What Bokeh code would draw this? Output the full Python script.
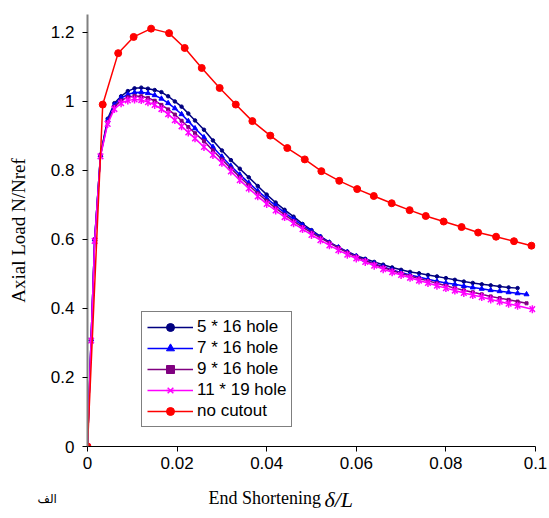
import math
from bokeh.plotting import figure
from bokeh.models import Range1d, FixedTicker, Legend, LegendItem, Label
from bokeh.embed import file_html
from bokeh.resources import INLINE

# ---------------- data ----------------
x_ticks = [0, 0.02, 0.04, 0.06, 0.08, 0.1]
x_tick_labels = ["0", "0.02", "0.04", "0.06", "0.08", "0.1"]
y_ticks = [0, 0.2, 0.4, 0.6, 0.8, 1.0, 1.2]
y_tick_labels = ["0", "0.2", "0.4", "0.6", "0.8", "1", "1.2"]

series_names = ["5 * 16 hole", "7 * 16 hole", "9 * 16 hole", "11 * 19 hole", "no cutout"]

x_5_16 = [0, 0.0008, 0.0016, 0.0029, 0.0045, 0.006, 0.0075, 0.009, 0.0105, 0.012, 0.0135, 0.015,
          0.0165, 0.018, 0.0195, 0.021, 0.0225, 0.024, 0.026, 0.028, 0.030, 0.032, 0.034, 0.036,
          0.038, 0.040, 0.042, 0.044, 0.046, 0.048, 0.050, 0.052, 0.054, 0.056, 0.058, 0.060,
          0.062, 0.064, 0.066, 0.068, 0.070, 0.072, 0.074, 0.076, 0.078, 0.080, 0.082, 0.084,
          0.086, 0.088, 0.090, 0.092, 0.094, 0.096]
y_5_16 = [0, 0.31, 0.60, 0.845, 0.95, 0.995, 1.015, 1.03, 1.038, 1.04, 1.037, 1.033,
          1.027, 1.015, 1.0, 0.985, 0.965, 0.945, 0.918, 0.887, 0.858, 0.83, 0.805, 0.78,
          0.755, 0.73, 0.707, 0.686, 0.666, 0.645, 0.627, 0.609, 0.592, 0.578, 0.565, 0.553,
          0.544, 0.535, 0.527, 0.519, 0.512, 0.506, 0.502, 0.497, 0.493, 0.488, 0.483, 0.478,
          0.474, 0.470, 0.467, 0.464, 0.461, 0.459]

x_7_16 = [0, 0.0008, 0.0016, 0.0029, 0.0045, 0.006, 0.0075, 0.009, 0.0105, 0.012, 0.0135, 0.015,
          0.0165, 0.018, 0.0195, 0.021, 0.0225, 0.024, 0.026, 0.028, 0.030, 0.032, 0.034, 0.036,
          0.038, 0.040, 0.042, 0.044, 0.046, 0.048, 0.050, 0.052, 0.054, 0.056, 0.058, 0.060,
          0.062, 0.064, 0.066, 0.068, 0.070, 0.072, 0.074, 0.076, 0.078, 0.080, 0.082, 0.084,
          0.086, 0.088, 0.090, 0.092, 0.094, 0.096, 0.098]
y_7_16 = [0, 0.31, 0.60, 0.845, 0.945, 0.99, 1.01, 1.02, 1.026, 1.027, 1.024, 1.018,
          1.008, 0.995, 0.98, 0.963, 0.943, 0.922, 0.896, 0.868, 0.840, 0.813, 0.788, 0.764,
          0.741, 0.719, 0.698, 0.678, 0.659, 0.641, 0.624, 0.607, 0.591, 0.577, 0.563, 0.551,
          0.540, 0.530, 0.521, 0.512, 0.504, 0.497, 0.491, 0.485, 0.479, 0.474, 0.470, 0.465,
          0.461, 0.457, 0.453, 0.450, 0.447, 0.444, 0.441]

x_9_16 = [0, 0.0008, 0.0016, 0.0029, 0.0045, 0.006, 0.0075, 0.009, 0.0105, 0.012, 0.0135, 0.015,
          0.0165, 0.018, 0.0195, 0.021, 0.0225, 0.024, 0.026, 0.028, 0.030, 0.032, 0.034, 0.036,
          0.038, 0.040, 0.042, 0.044, 0.046, 0.048, 0.050, 0.052, 0.054, 0.056, 0.058, 0.060,
          0.062, 0.064, 0.066, 0.068, 0.070, 0.072, 0.074, 0.076, 0.078, 0.080, 0.082, 0.084,
          0.086, 0.088, 0.090, 0.092, 0.094, 0.096, 0.098]
y_9_16 = [0, 0.31, 0.60, 0.843, 0.94, 0.985, 1.003, 1.012, 1.016, 1.015, 1.01, 1.002,
          0.99, 0.977, 0.962, 0.944, 0.926, 0.908, 0.885, 0.858, 0.832, 0.806, 0.781, 0.757,
          0.734, 0.712, 0.691, 0.672, 0.653, 0.636, 0.620, 0.605, 0.590, 0.576, 0.562, 0.550,
          0.539, 0.528, 0.519, 0.510, 0.502, 0.494, 0.487, 0.480, 0.473, 0.466, 0.459, 0.453,
          0.447, 0.441, 0.435, 0.430, 0.425, 0.420, 0.415]

x_11_19 = [0, 0.0008, 0.0016, 0.0029, 0.0045, 0.006, 0.0075, 0.009, 0.0105, 0.012, 0.0135, 0.015,
           0.0165, 0.018, 0.0195, 0.021, 0.0225, 0.024, 0.026, 0.028, 0.030, 0.032, 0.034, 0.036,
           0.038, 0.040, 0.042, 0.044, 0.046, 0.048, 0.050, 0.052, 0.054, 0.056, 0.058, 0.060,
           0.062, 0.064, 0.066, 0.068, 0.070, 0.072, 0.074, 0.076, 0.078, 0.080, 0.082, 0.084,
           0.086, 0.088, 0.090, 0.092, 0.094, 0.096, 0.0993]
y_11_19 = [0, 0.307, 0.596, 0.841, 0.935, 0.978, 0.995, 1.003, 1.006, 1.004, 0.998, 0.99,
           0.978, 0.963, 0.946, 0.928, 0.91, 0.893, 0.868, 0.845, 0.822, 0.797, 0.772, 0.748,
           0.725, 0.703, 0.684, 0.665, 0.647, 0.630, 0.613, 0.598, 0.583, 0.569, 0.556, 0.545,
           0.535, 0.524, 0.514, 0.505, 0.497, 0.489, 0.481, 0.474, 0.466, 0.459, 0.452, 0.445,
           0.439, 0.433, 0.426, 0.420, 0.414, 0.408, 0.398]

x_no_cut = [0, 0.0034, 0.00685, 0.0103, 0.0142, 0.0182, 0.0217, 0.0255, 0.0295, 0.0331, 0.0368,
            0.0408, 0.0446, 0.0485, 0.0522, 0.0562, 0.0602, 0.0639, 0.0679, 0.0719, 0.0755,
            0.0795, 0.0835, 0.0872, 0.0912, 0.0952, 0.0991]
y_no_cut = [0, 0.991, 1.140, 1.187, 1.211, 1.198, 1.155, 1.097, 1.039, 0.991, 0.943,
            0.901, 0.865, 0.832, 0.798, 0.770, 0.746, 0.726, 0.705, 0.685, 0.668,
            0.652, 0.636, 0.620, 0.608, 0.595, 0.582]

# ---------------- figure ----------------
p = figure(width=549, height=518, output_backend="svg", toolbar_location=None,
           x_range=Range1d(0, 0.1), y_range=Range1d(0, 1.252))
p.min_border_left = 87
p.min_border_right = 14
p.min_border_top = 13
p.min_border_bottom = 72
p.outline_line_color = None
p.grid.visible = False
p.background_fill_color = "white"
p.border_fill_color = "white"

sans = "Liberation Sans"
serif = "Liberation Serif"

xa = p.xaxis[0]
xa.ticker = FixedTicker(ticks=x_ticks)
xa.major_label_overrides = {t: l for t, l in zip(x_ticks, x_tick_labels)}
xa.axis_line_color = "black"
xa.axis_line_width = 1
xa.major_tick_line_color = "black"
xa.major_tick_out = 5
xa.major_tick_in = 0
xa.minor_tick_line_color = None
xa.major_label_text_font = sans
xa.major_label_text_font_size = "17px"
xa.major_label_text_color = "black"
xa.major_label_standoff = 5

ya = p.yaxis[0]
ya.ticker = FixedTicker(ticks=y_ticks)
ya.major_label_overrides = {t: l for t, l in zip(y_ticks, y_tick_labels)}
ya.axis_line_color = "#808080"
ya.axis_line_width = 2
ya.major_tick_line_color = "black"
ya.major_tick_out = 5
ya.major_tick_in = 0
ya.minor_tick_line_color = None
ya.major_label_text_font = sans
ya.major_label_text_font_size = "17px"
ya.major_label_text_color = "black"
ya.major_label_standoff = 8
ya.axis_label = "Axial Load N/Nref"
ya.axis_label_text_font = serif
ya.axis_label_text_font_style = "normal"
ya.axis_label_text_font_size = "19px"
ya.axis_label_text_color = "black"
ya.axis_label_standoff = 19

colors = ["#000080", "#0000FF", "#800080", "#FF00FF", "#FF0000"]
xs = [x_5_16, x_7_16, x_9_16, x_11_19, x_no_cut]
ys = [y_5_16, y_7_16, y_9_16, y_11_19, y_no_cut]
markers = ["circle", "triangle", "square", "x", "circle"]
msizes = [3.5, 5, 3, 8, 7]

items = []
for name, c, xv, yv, m, s in zip(series_names, colors, xs, ys, markers, msizes):
    r1 = p.line(xv, yv, line_color=c, line_width=1.5)
    if m == "x":
        r2 = p.scatter(xv, yv, marker="x", size=s, line_color=c, line_width=1.5)
        r3 = p.scatter(xv, yv, marker="dash", size=s, angle=math.pi / 2, line_color=c, line_width=1.5)
        rends = [r1, r2, r3]
    else:
        r2 = p.scatter(xv, yv, marker=m, size=s, fill_color=c, line_color=c)
        rends = [r1, r2]
    items.append(LegendItem(label=name, renderers=rends))

legend = Legend(items=items, location=(54, 19))
legend.border_line_color = "black"
legend.border_line_width = 1
legend.background_fill_color = "white"
legend.background_fill_alpha = 1
legend.padding = 5
legend.spacing = 1
legend.margin = 0
legend.label_height = 20
legend.glyph_height = 20
legend.glyph_width = 46
legend.label_standoff = 4
legend.label_text_font = sans
legend.label_text_font_size = "17px"
legend.label_text_color = "black"
p.add_layout(legend, "center")

# x-axis title (two parts) in the panels below the x axis
p.add_layout(Label(x=121, y=-6, x_units="screen", y_units="screen", text="End Shortening",
                   text_align="left", text_baseline="middle",
                   text_font=serif, text_font_size="18px", text_color="black"), "below")
p.add_layout(Label(x=237, y=17, x_units="screen", y_units="screen", text="δ/L",
                   text_align="left", text_baseline="middle", text_font_style="italic",
                   text_font=serif, text_font_size="22px", text_color="black"), "below")
# corner note, hosted by the (otherwise empty) top panel
p.add_layout(Label(x=-50, y=-484, x_units="screen", y_units="screen", text="الف",
                   text_align="left", text_baseline="middle",
                   text_font="DejaVu Sans", text_font_size="12px", text_color="black"), "above")

open("out.html", "w").write(file_html(p, INLINE))
